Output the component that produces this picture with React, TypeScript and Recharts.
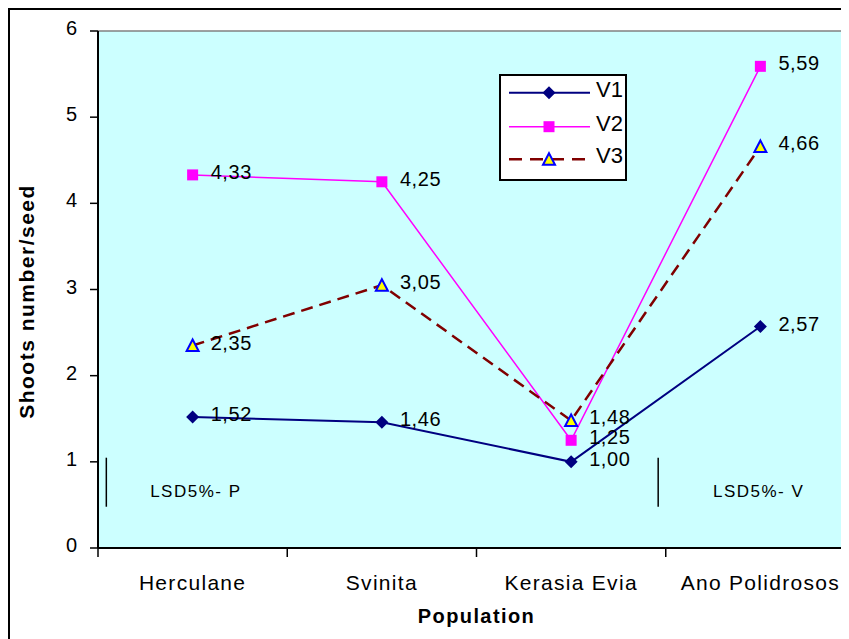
import React from 'react';
import {
  LineChart, Line, XAxis, YAxis, CartesianGrid, Legend, LabelList, Label,
  ReferenceLine, ReferenceDot,
} from 'recharts';

const categories = ['Herculane', 'Svinita', 'Kerasia Evia', 'Ano Polidrosos'];
const v1 = [1.52, 1.46, 1.0, 2.57];
const v2 = [4.33, 4.25, 1.25, 5.59];
const v3 = [2.35, 3.05, 1.48, 4.66];
const seriesNames = ['V1', 'V2', 'V3'];
const yTicks = [0, 1, 2, 3, 4, 5, 6];
const xTicks = [0, 0.5, 1, 1.5, 2, 2.5, 3, 3.5, 4];
const lsdNotes = [
  { text: 'LSD5%- P', lineX: 0.044, textX: 0.276 },
  { text: 'LSD5%- V', lineX: 2.96, textX: 3.25 },
];
const lsdTop = 1.048;
const lsdBottom = 0.479;
const lsdTextY = 0.595;

const data = categories.map((name, i) => ({
  x: i + 0.5,
  name,
  V1: v1[i],
  V2: v2[i],
  V3: v3[i],
}));

const FONT = '"Liberation Sans", Arial, sans-serif';
const C1 = '#000080';
const C2 = '#FF00FF';
const C3 = '#800000';
const BG = '#CCFFFF';

const Diamond = ({ cx, cy }: any) => (
  <path d={`M${cx},${cy - 6.5} L${cx + 6.5},${cy} L${cx},${cy + 6.5} L${cx - 6.5},${cy} Z`} fill={C1} />
);
const Square = ({ cx, cy }: any) => (
  <rect x={cx - 5.5} y={cy - 5.5} width={11} height={11} fill={C2} />
);
const Tri = ({ cx, cy }: any) => (
  <path d={`M${cx},${cy - 6} L${cx + 6},${cy + 5.5} L${cx - 6},${cy + 5.5} Z`} fill="#FFFF00" stroke="#0000FF" strokeWidth={2} />
);

const fmt = (v: number) => v.toFixed(2).replace('.', ',');

const ValueLabel = (props: any) => {
  const { x, y, value } = props;
  if (x == null || y == null) return null;
  return (
    <text x={x + 18} y={y - 3} dominantBaseline="central" fontFamily={FONT} fontSize={20} letterSpacing={0.6} fill="#000">
      {fmt(Number(value))}
    </text>
  );
};

const XTick = (props: any) => {
  const { x, y, payload } = props;
  const v = payload.value;
  if (Number.isInteger(v)) {
    return <line x1={x} y1={y} x2={x} y2={y + 9} stroke="#000" strokeWidth={1.5} />;
  }
  const idx = Math.floor(v);
  return (
    <text x={x} y={y + 42} textAnchor="middle" fontFamily={FONT} fontSize={21} letterSpacing={1.3} fill="#000">
      {categories[idx]}
    </text>
  );
};

const YTick = (props: any) => {
  const { x, y, payload } = props;
  return (
    <text x={x} y={y - 3} textAnchor="end" dominantBaseline="central" fontFamily={FONT} fontSize={20} fill="#000">
      {payload.value}
    </text>
  );
};

const LegendBox = () => {
  const rows = [18.7, 52.7, 85.2];
  const markers = [
    <Diamond cx={50} cy={rows[0]} />,
    <Square cx={50} cy={rows[1]} />,
    <Tri cx={50} cy={rows[2]} />,
  ];
  const colors = [C1, C2, C3];
  return (
    <svg width={128} height={107} style={{ display: 'block' }}>
      <rect x={1} y={1} width={126} height={105} fill="#fff" stroke="#000" strokeWidth={2} />
      {seriesNames.map((n, i) => (
        <g key={n}>
          <line
            x1={10} x2={91} y1={rows[i]} y2={rows[i]}
            stroke={colors[i]}
            strokeWidth={i === 1 ? 1.5 : i === 2 ? 2.5 : 2}
            strokeDasharray={i === 2 ? '13 8' : undefined}
          />
          {markers[i]}
          <text x={97} y={rows[i] + 4} fontFamily={FONT} fontSize={22} fill="#000">{n}</text>
        </g>
      ))}
    </svg>
  );
};

export default function App() {
  return (
    <div style={{ width: 839, height: 629, borderLeft: '2px solid #000', borderTop: '2px solid #000', overflow: 'hidden', background: '#fff' }}>
      <style>{'body{overflow:hidden}'}</style>
      <LineChart width={870} height={629} data={data} margin={{ top: 21, right: 25, bottom: 0, left: 0 }}>
        <CartesianGrid fill={BG} horizontal={false} vertical={false} />
        <XAxis
          dataKey="x"
          type="number"
          domain={[0, 4]}
          ticks={xTicks}
          interval={0}
          tickSize={0}
          tickMargin={0}
          tickLine={false}
          tick={<XTick />}
          height={91}
          axisLine={{ stroke: '#000', strokeWidth: 2 }}
        >
          <Label
            content={(p: any) => {
              const vb = p.viewBox;
              return (
                <text x={vb.x + vb.width / 2} y={vb.y + 75} textAnchor="middle" fontFamily={FONT} fontWeight="bold" fontSize={20} letterSpacing={1.4} fill="#000">
                  Population
                </text>
              );
            }}
          />
        </XAxis>
        <YAxis
          type="number"
          domain={[0, 6]}
          ticks={yTicks}
          interval={0}
          width={88}
          tickSize={8}
          tickMargin={13}
          tick={<YTick />}
          tickLine={{ stroke: '#000', strokeWidth: 1.5 }}
          axisLine={{ stroke: '#000', strokeWidth: 2 }}
        >
          <Label
            content={(p: any) => {
              const vb = p.viewBox;
              const cx = vb.x + 16;
              const cy = vb.y + vb.height / 2 + 12;
              return (
                <text x={cx} y={cy} transform={`rotate(-90 ${cx} ${cy})`} textAnchor="middle" dominantBaseline="central" fontFamily={FONT} fontWeight="bold" fontSize={21} letterSpacing={1.5} fill="#000">
                  Shoots number/seed
                </text>
              );
            }}
          />
        </YAxis>
        <ReferenceLine y={6} stroke="#808080" strokeWidth={1.5} />
        {lsdNotes.map((n) => (
          <ReferenceLine
            key={'l' + n.text}
            segment={[{ x: n.lineX, y: lsdTop }, { x: n.lineX, y: lsdBottom }]}
            stroke="#000"
            strokeWidth={1.5}
          />
        ))}
        {lsdNotes.map((n) => (
          <ReferenceDot
            key={'t' + n.text}
            x={n.textX}
            y={lsdTextY}
            r={0.1}
            fill="none"
            stroke="none"
            label={(p: any) => {
              const vb = p.viewBox;
              return (
                <text x={vb.x} y={vb.y} fontFamily={FONT} fontSize={17} letterSpacing={1.5} fill="#000">
                  {n.text}
                </text>
              );
            }}
          />
        ))}
        <Line
          dataKey="V1"
          name="V1"
          stroke={C1}
          strokeWidth={2}
          dot={(p: any) => <Diamond key={'d1' + p.index} {...p} />}
          activeDot={false}
          isAnimationActive={false}
        >
          <LabelList dataKey="V1" content={<ValueLabel />} />
        </Line>
        <Line
          dataKey="V2"
          name="V2"
          stroke={C2}
          strokeWidth={1.5}
          dot={(p: any) => <Square key={'d2' + p.index} {...p} />}
          activeDot={false}
          isAnimationActive={false}
        >
          <LabelList dataKey="V2" content={<ValueLabel />} />
        </Line>
        <Line
          dataKey="V3"
          name="V3"
          stroke={C3}
          strokeWidth={2.5}
          strokeDasharray="12 7"
          dot={(p: any) => <Tri key={'d3' + p.index} {...p} />}
          activeDot={false}
          isAnimationActive={false}
        >
          <LabelList dataKey="V3" content={<ValueLabel />} />
        </Line>
        <Legend
          layout="vertical"
          align="center"
          verticalAlign="middle"
          wrapperStyle={{ left: 489, top: 64, width: 128, height: 107 }}
          content={() => <LegendBox />}
        />
      </LineChart>
    </div>
  );
}
